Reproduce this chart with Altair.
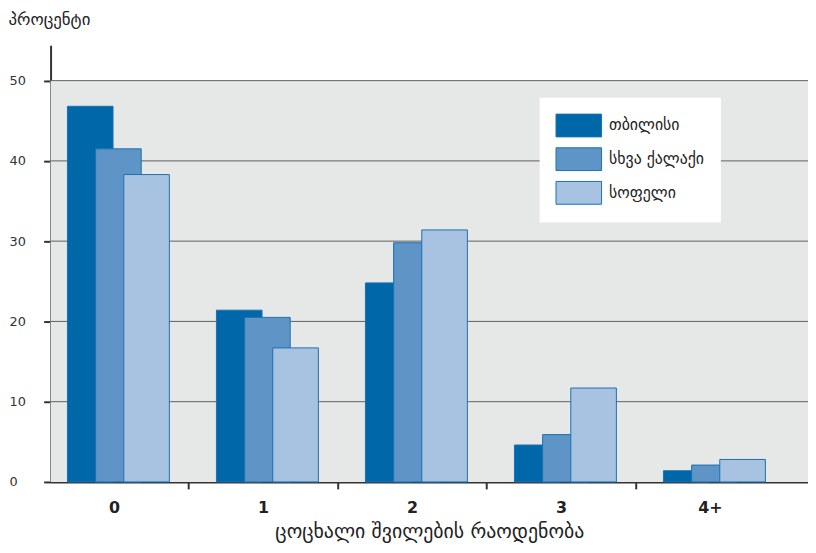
import altair as alt
import pandas as pd

categories = ["0", "1", "2", "3", "4+"]
series = ["თბილისი", "სხვა ქალაქი", "სოფელი"]
tbilisi = [46.8, 21.4, 24.8, 4.6, 1.4]
other_city = [41.5, 20.5, 29.8, 5.9, 2.1]
village = [38.3, 16.7, 31.4, 11.7, 2.8]
y_ticks = [0, 10, 20, 30, 40, 50]
grid_values = [10, 20, 30, 40, 50]
colors = ["#0067a9", "#5e95c6", "#a8c2e1"]

rows = []
for s_idx, (name, vals) in enumerate(zip(series, [tbilisi, other_city, village])):
    for c_idx, (cat, v) in enumerate(zip(categories, vals)):
        rows.append({"cat": cat, "ci": c_idx, "series": name, "si": s_idx, "value": v})
df = pd.DataFrame(rows)

FONT = "DejaVu Sans"
BW = 0.306   # bar width in category units
OFF = 0.189  # offset between overlapping bars
xscale = alt.Scale(domain=[-0.4252, 4.658], nice=False, zero=False)
yscale = alt.Scale(domain=[0, 54.4], nice=False)

bg = alt.Chart(pd.DataFrame({"top": [50], "bottom": [0]})).mark_rect(color="#e6e7e7").encode(
    x=alt.value(0), x2=alt.value(765), y=alt.Y("top:Q", scale=yscale), y2="bottom:Q"
)

grid = alt.Chart(pd.DataFrame({"g": grid_values})).mark_rule(color="#5f5f5f", strokeWidth=1).encode(
    y=alt.Y("g:Q", scale=yscale), x=alt.value(0), x2=alt.value(765)
)

label_expr = "['0','1','2','3','4+'][round(datum.value - 0.5)]"

bars = alt.Chart(df).transform_calculate(
    x0=f"datum.ci + 0.03 + (datum.si - 1) * {OFF} - {BW/2}",
    x1=f"datum.ci + 0.03 + (datum.si - 1) * {OFF} + {BW/2}",
    base="0",
).mark_bar(stroke="#1a70b3", strokeWidth=1).encode(
    x=alt.X(
        "x0:Q",
        scale=xscale,
        axis=alt.Axis(
            values=[0.5, 1.5, 2.5, 3.5, 4.5],
            labelExpr=label_expr,
            labelOffset=-75.25,
            tickOpacity={"condition": {"test": "datum.value > 4", "value": 0}, "value": 1},
            tickSize=7,
            tickWidth=2,
            tickColor="#333333",
            domainColor="#333333",
            domainWidth=2,
            grid=False,
            labelFont=FONT,
            labelFontSize=16,
            labelFontWeight="bold",
            labelColor="#222222",
            labelPadding=11,
            title="ცოცხალი შვილების რაოდენობა",
            titleFont=FONT,
            titleFontSize=20,
            titleFontWeight="normal",
            titleColor="#222222",
            titlePadding=6,
        ),
    ),
    x2="x1:Q",
    y=alt.Y(
        "value:Q",
        scale=yscale,
        axis=alt.Axis(
            values=y_ticks,
            grid=False,
            tickSize=7,
            tickWidth=2,
            tickColor="#333333",
            domainColor="#333333",
            domainWidth=2,
            labelAlign="left",
            labelBaseline="middle",
            labelPadding=35,
            labelFont=FONT,
            labelFontSize=13,
            labelColor="#333333",
            title="პროცენტი",
            titleAngle=0,
            titleAlign="left",
            titleBaseline="middle",
            titleX=-43,
            titleY=-26,
            titleFont=FONT,
            titleFontSize=17,
            titleFontWeight="normal",
            titleColor="#222222",
        ),
    ),
    y2="base:Q",
    color=alt.Color(
        "series:N",
        scale=alt.Scale(domain=series, range=colors),
        legend=alt.Legend(
            title=None,
            orient="none",
            legendX=494,
            legendY=53,
            fillColor="white",
            padding=16,
            symbolType="M-1,-1H3V1H-1Z",
            symbolSize=529,
            symbolStrokeColor="#1a70b3",
            symbolStrokeWidth=1,
            symbolOpacity=1,
            rowPadding=6,
            labelFont=FONT,
            labelFontSize=16,
            labelColor="#222222",
            labelOffset=30,
        ),
    ),
)

chart = alt.layer(bg, grid, bars).properties(
    width=765,
    height=441,
    autosize=alt.AutoSizeParams(type="none"),
    padding={"left": 43, "top": 35, "right": 0, "bottom": 61},
).configure_view(stroke=None)

chart.save("out.html", embed_options={"renderer": "svg", "actions": False})
